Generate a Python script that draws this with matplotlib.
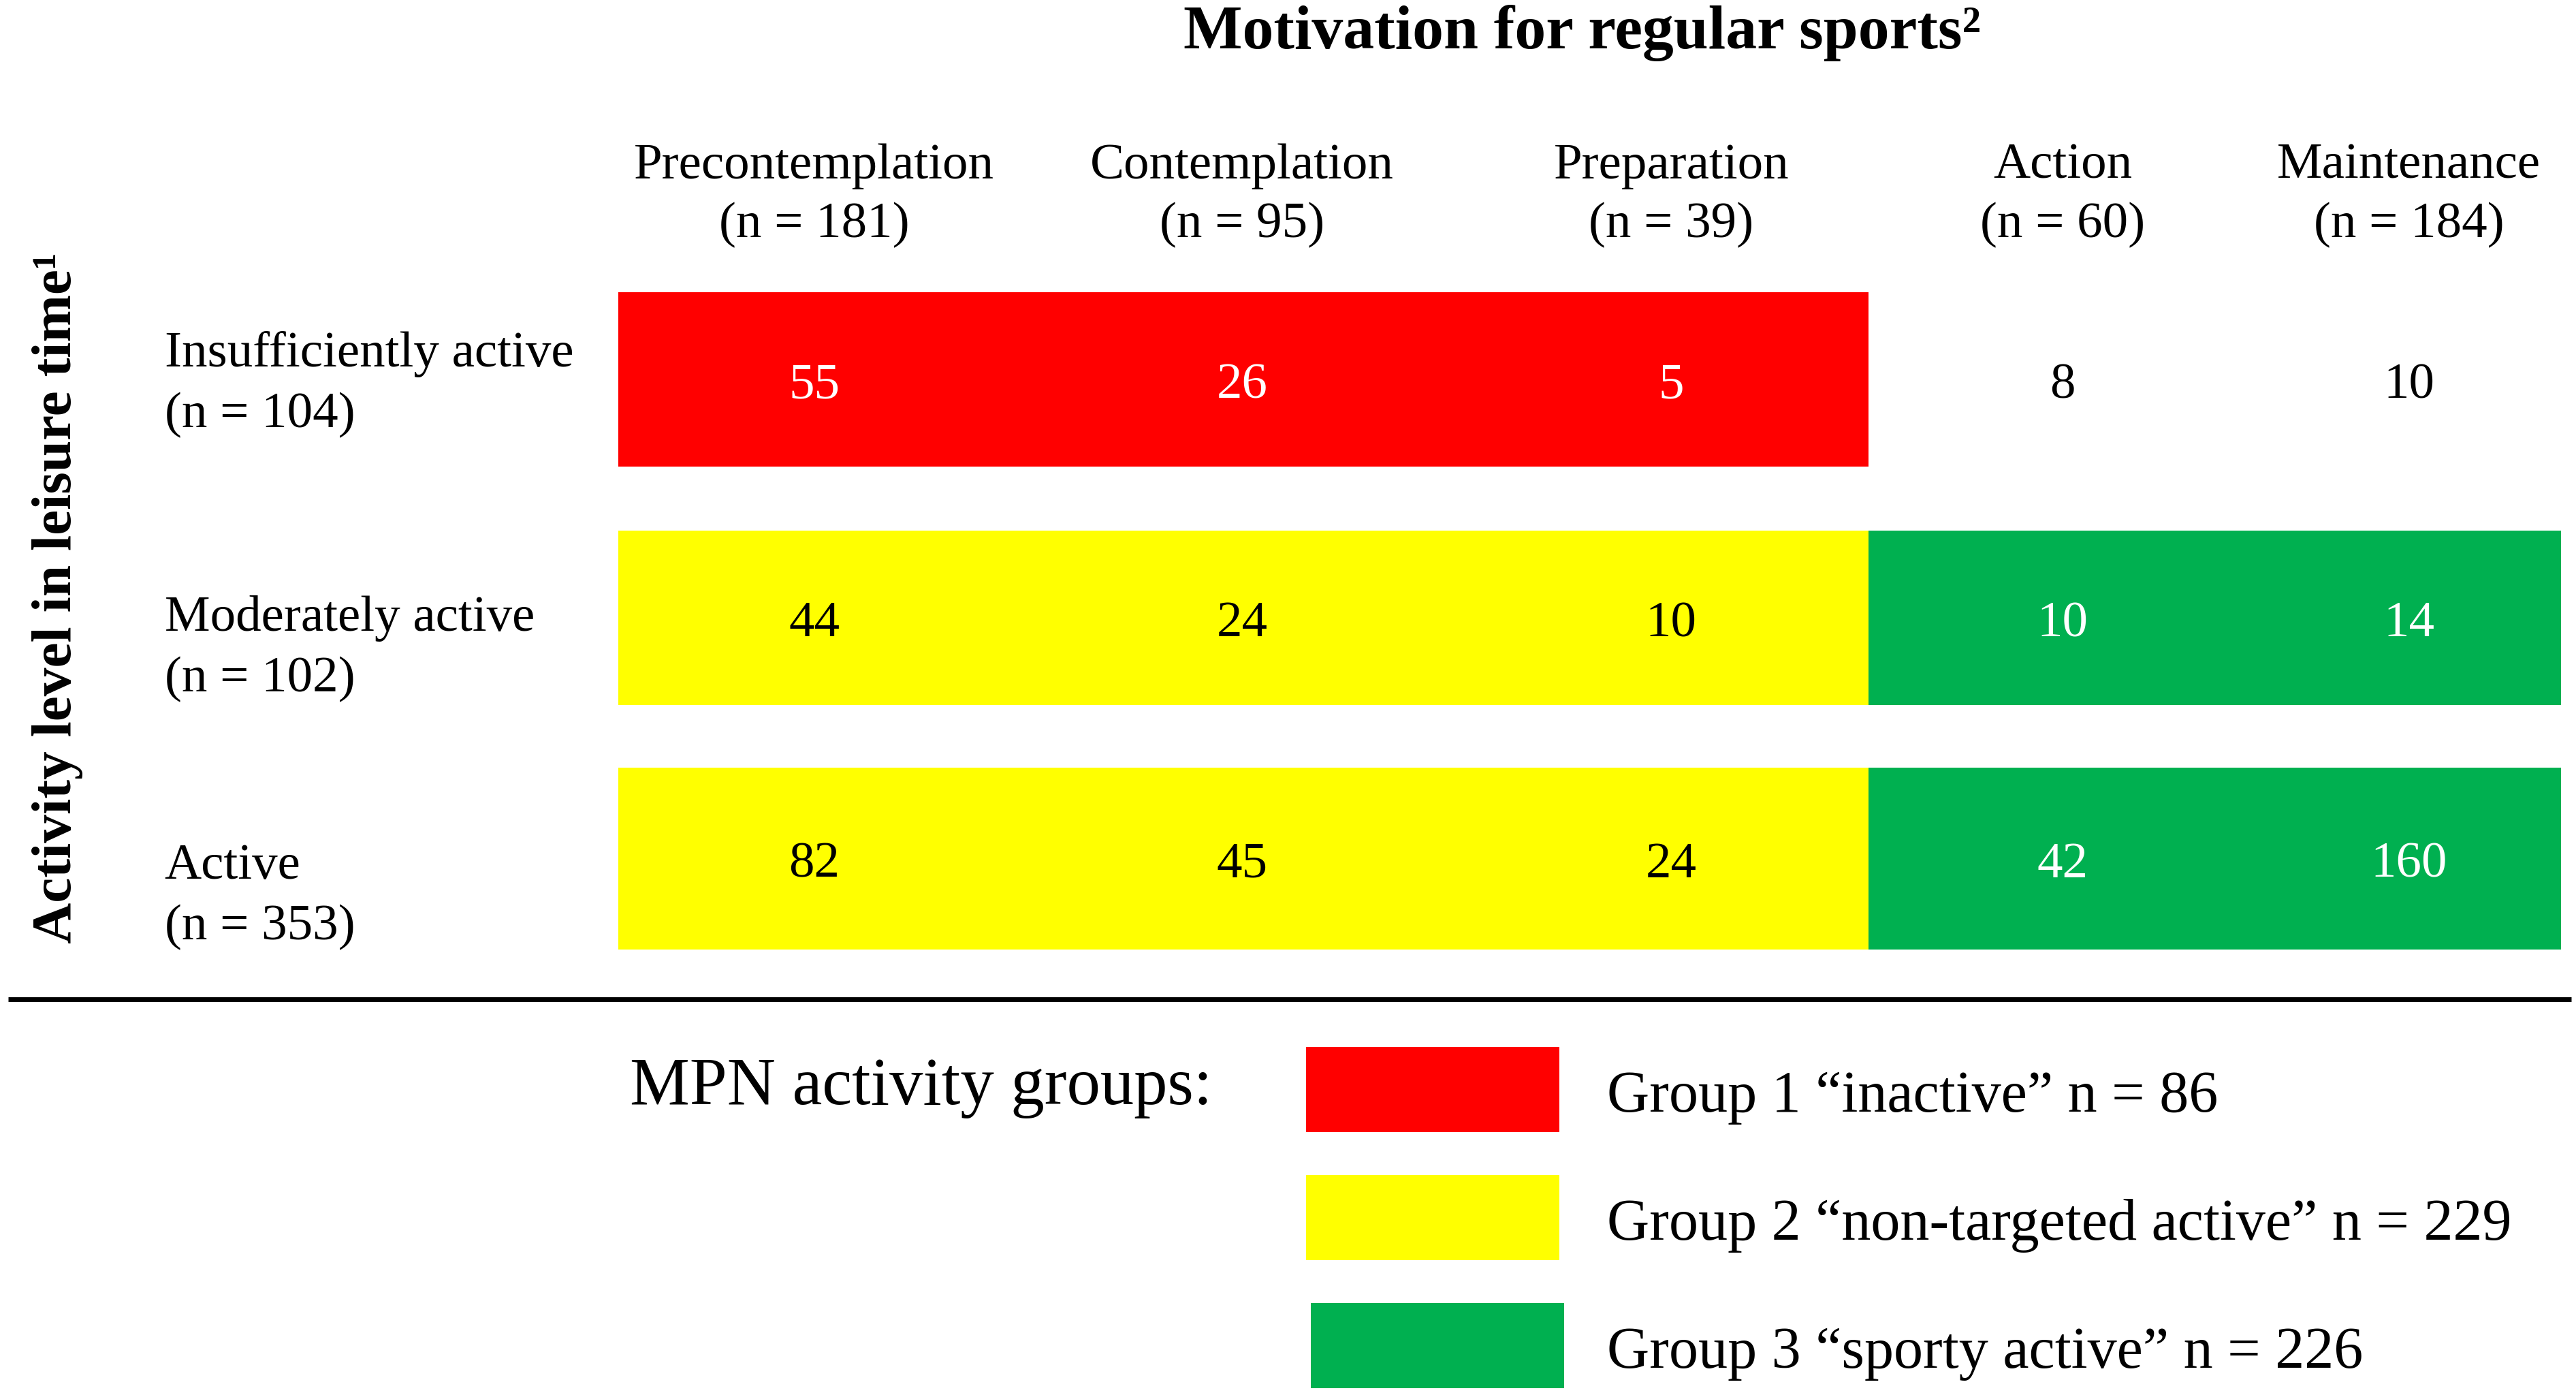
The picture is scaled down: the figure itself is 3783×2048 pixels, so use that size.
import matplotlib.pyplot as plt

plt.rcParams['font.family'] = ['Liberation Serif', 'DejaVu Serif']

stages = ['Precontemplation', 'Contemplation', 'Preparation', 'Action', 'Maintenance']
stage_n = [181, 95, 39, 60, 184]
levels = ['Insufficiently active', 'Moderately active', 'Active']
level_n = [104, 102, 353]
counts = [[55, 26, 5, 8, 10],
          [44, 24, 10, 10, 14],
          [82, 45, 24, 42, 160]]
# 0 = no group, 1 = inactive, 2 = non-targeted active, 3 = sporty active
groups = [[1, 1, 1, 0, 0],
          [2, 2, 2, 3, 3],
          [2, 2, 2, 3, 3]]
group_labels = ['Group 1 \u201cinactive\u201d', 'Group 2 \u201cnon-targeted active\u201d',
                'Group 3 \u201csporty active\u201d']
group_n = [86, 229, 226]

fill = {0: 'white', 1: '#FF0000', 2: '#FFFF00', 3: '#00B050'}
ink = {0: 'black', 1: 'white', 2: 'black', 3: 'white'}

# layout in reference units (canvas 1566 x 849)
W, H = 1566, 849
col_edges = [376, 614, 896, 1136, 1372, 1557]
row_tops = [178, 323, 467]
row_h = [106, 106, 111]
label_y = [234, 395, 546]
fs = 54

fig = plt.figure(figsize=(37.83, 20.48), dpi=100)
ax = fig.add_axes([0, 0, 1, 1])
ax.set_xlim(0, W)
ax.set_ylim(H, 0)
ax.axis('off')

centers = [(col_edges[i] + col_edges[i + 1]) / 2 for i in range(len(stages))]
widths = [col_edges[i + 1] - col_edges[i] for i in range(len(stages))]

ax.text(962, 20, 'Motivation for regular sports\u00b2', ha='center', va='center',
        fontsize=66, fontweight='bold')
ax.text(35, 364, 'Activity level in leisure time\u00b9', ha='center', va='center',
        rotation=90, fontsize=60, fontweight='bold')

for c, name in enumerate(stages):
    ax.text(centers[c], 119, f'{name}\n(n = {stage_n[c]})', ha='center', va='center',
            multialignment='center', fontsize=fs, linespacing=1.37)

for r, name in enumerate(levels):
    yc = row_tops[r] + row_h[r] / 2
    ax.text(100, label_y[r], f'{name}\n(n = {level_n[r]})', ha='left', va='center',
            fontsize=fs, linespacing=1.42)
    ax.bar(centers, row_h[r], bottom=row_tops[r], width=widths,
           color=[fill[g] for g in groups[r]], linewidth=0, antialiased=False)
    for c in range(len(stages)):
        ax.text(centers[c], yc + 4, str(counts[r][c]), ha='center', va='center',
                fontsize=fs, color=ink[groups[r][c]])

ax.plot([5, 1563], [608, 608], color='black', linewidth=5, solid_capstyle='butt')

ax.text(383, 662, 'MPN activity groups:', ha='left', va='center', fontsize=71)
leg_y = [663, 741, 819]
leg_x = [871, 871, 874]
for i, lab in enumerate(group_labels):
    ax.bar(leg_x[i], 52, bottom=leg_y[i] - 26, width=154, color=fill[i + 1], linewidth=0)
    ax.text(977, leg_y[i] + 5, f'{lab} n = {group_n[i]}', ha='left', va='center', fontsize=62)

fig.savefig('out.png', dpi=100)
